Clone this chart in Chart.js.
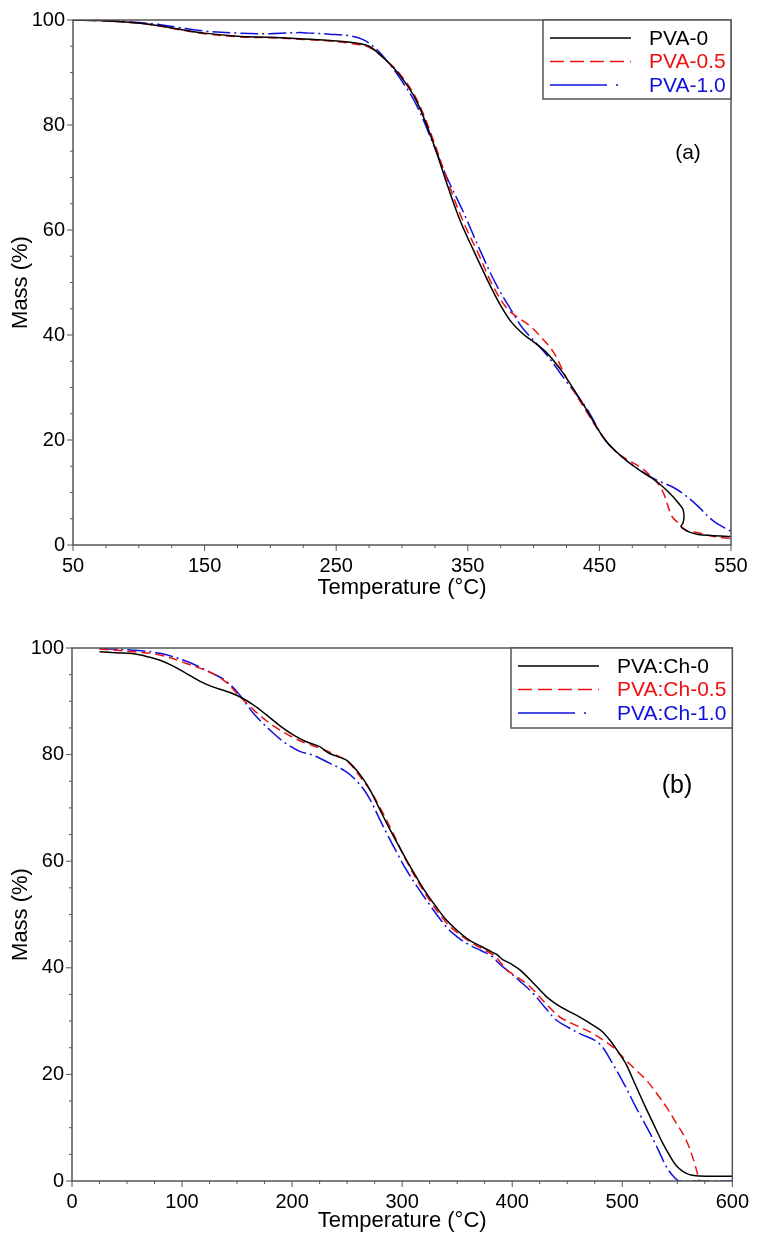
<!DOCTYPE html>
<html>
<head>
<meta charset="utf-8">
<script src="https://cdn.jsdelivr.net/npm/chart.js@4.4.0/dist/chart.umd.min.js"></script>
<style>
  body { margin: 0; background: #fff; }
  #wrap { position: relative; width: 758px; height: 1240px; }
  canvas { position: absolute; left: 0; }
  #chartA { top: 0; }
  #chartB { top: 610px; }
</style>
</head>
<body>
<div id="wrap">
  <canvas id="chartA" width="758" height="610"></canvas>
  <canvas id="chartB" width="758" height="630"></canvas>
</div>
<script>
// ---- panel (a) ----
const labelsA = ['PVA-0', 'PVA-0.5', 'PVA-1.0'];
const tempA0 = [50, 70, 90, 110, 130, 150, 175, 200, 225, 250, 265, 275, 285, 298, 311, 324, 334, 344, 354, 367, 375, 383, 392, 400, 410, 420, 425, 438, 455, 471, 485, 494, 504, 510, 513.5, 514.3, 513.5, 512, 515, 519, 525, 535, 550];
const massA0 = [100, 99.9, 99.6, 99.1, 98.3, 97.5, 96.9, 96.7, 96.4, 96.0, 95.6, 95.0, 93.0, 89.6, 84.6, 76.4, 68.9, 61.9, 56.3, 49.4, 45.6, 42.5, 40.2, 38.7, 36.6, 33.6, 31.8, 26.7, 19.8, 16.0, 13.5, 12.0, 9.7, 8.0, 6.8, 5.3, 4.2, 3.5, 2.9, 2.4, 2.0, 1.8, 1.6];
const tempA05 = [50, 70, 90, 110, 130, 150, 175, 200, 225, 250, 265, 275, 285, 298, 311, 324, 334, 346, 358, 369, 380, 390, 397, 406, 415, 425, 440, 455, 465, 473, 483, 491, 496, 499, 502, 505, 509, 516, 524, 535, 550];
const massA05 = [100, 99.9, 99.6, 99.1, 98.2, 97.4, 96.8, 96.6, 96.3, 95.9, 95.4, 94.8, 93.0, 89.8, 85.0, 77.0, 69.8, 61.9, 55.5, 49.4, 45.0, 43.0, 41.8, 39.5, 36.8, 31.8, 25.5, 19.8, 17.3, 16.0, 14.5, 12.6, 11.2, 9.7, 7.5, 5.5, 4.4, 2.8, 2.4, 1.7, 1.2];
const tempA10 = [50, 70, 90, 110, 130, 150, 175, 200, 222, 230, 245, 260, 270, 278, 286, 298, 311, 324, 334, 347, 359, 372, 387, 392, 410, 425, 440, 455, 471, 485, 494, 506, 515, 524, 537, 550];
const massA10 = [100, 99.9, 99.7, 99.3, 98.6, 97.9, 97.5, 97.4, 97.6, 97.5, 97.3, 97.0, 96.3, 95.0, 93.0, 89.1, 83.8, 76.2, 70.1, 63.2, 56.3, 49.4, 43.1, 41.2, 36.2, 31.1, 26.1, 19.8, 16.0, 13.6, 12.3, 11.0, 9.5, 7.6, 4.5, 2.6];

// ---- panel (b) ----
const labelsB = ['PVA:Ch-0', 'PVA:Ch-0.5', 'PVA:Ch-1.0'];
const tempB0 = [25, 40, 56, 70, 80, 92, 104, 116, 128, 140, 152, 165, 177, 189, 201, 213, 225, 234, 249, 258, 265, 271, 279, 286, 295, 304, 313, 322, 331, 340, 350, 361, 372, 382, 386, 391, 400, 407, 418, 431, 440, 449, 461, 473, 482, 491, 497, 503, 512, 521, 530, 537, 543, 549, 555, 561, 567, 580, 600];
const massB0 = [99.3, 99.1, 98.9, 98.3, 97.7, 96.6, 95.2, 93.8, 92.7, 91.9, 90.9, 89.3, 87.4, 85.4, 83.7, 82.4, 81.5, 80.2, 79.0, 77.2, 75.3, 73.3, 70.0, 67.1, 63.6, 60.2, 57.0, 54.0, 51.4, 49.0, 47.0, 45.2, 44.0, 42.9, 42.5, 41.6, 40.6, 39.6, 37.4, 34.6, 33.2, 32.1, 30.8, 29.3, 28.0, 25.8, 24.0, 22.1, 18.0, 13.9, 10.0, 7.0, 4.8, 2.9, 1.8, 1.2, 1.0, 0.9, 0.9];
const tempB05 = [25, 56, 80, 104, 128, 140, 152, 165, 177, 189, 201, 213, 225, 237, 249, 255, 262, 271, 280, 290, 304, 322, 340, 352, 364, 376, 385, 390, 395, 405, 416, 430, 443, 458, 473, 491, 503, 512, 522, 531, 540, 549, 558, 565, 570];
const massB05 = [99.8, 99.3, 98.7, 97.1, 95.2, 93.6, 91.0, 88.4, 86.3, 84.6, 83.2, 82.1, 81.2, 80.2, 78.9, 77.7, 75.8, 73.3, 70.0, 66.0, 60.0, 53.6, 48.5, 46.3, 44.6, 43.2, 42.1, 40.8, 39.6, 38.2, 36.5, 33.4, 30.8, 29.2, 27.7, 25.2, 22.7, 20.9, 18.9, 16.5, 13.9, 10.9, 7.7, 3.8, 0.0];
const tempB10 = [25, 56, 80, 104, 128, 140, 152, 165, 183, 195, 207, 220, 234, 249, 258, 265, 271, 280, 286, 295, 304, 322, 340, 350, 361, 372, 382, 388, 395, 407, 419, 430, 440, 451, 461, 479, 491, 503, 512, 522, 531, 540, 546, 552, 600];
const massB10 = [99.9, 99.6, 99.0, 97.5, 95.2, 93.8, 91.3, 87.7, 84.0, 82.0, 80.6, 79.8, 78.4, 76.8, 75.2, 73.5, 71.5, 67.7, 65.2, 61.7, 58.3, 52.7, 47.7, 45.8, 44.3, 43.2, 42.1, 40.8, 39.6, 37.5, 35.2, 32.5, 30.2, 28.8, 27.7, 25.8, 22.1, 17.7, 14.0, 10.2, 6.6, 2.7, 1.0, 0, 0];

const FONT = 'Arial, "Liberation Sans", sans-serif';
Chart.defaults.font.family = FONT;
Chart.defaults.color = '#000';

function pts(ts, ms) {
  return ts.map((t, i) => ({ x: t, y: ms[i] }));
}

function series(label, ts, ms, color, dash, legendDash) {
  return {
    label: label,
    data: pts(ts, ms),
    borderColor: color,
    borderWidth: 1.5,
    borderDash: dash,
    legendDash: legendDash,
    pointRadius: 0,
    tension: 0.35,
    showLine: true,
    fill: false
  };
}

// frame, ticks, in-plot legend and panel label
const framePlugin = {
  id: 'frame',
  afterDraw(chart, args, opts) {
    const { ctx, chartArea: a, scales: { x, y } } = chart;
    ctx.save();
    ctx.strokeStyle = '#555';
    ctx.lineWidth = 1;
    ctx.beginPath();
    x.ticks.forEach(t => {
      const px = x.getPixelForValue(t.value);
      const len = t.label !== '' ? 6 : 3;
      ctx.moveTo(px, a.bottom);
      ctx.lineTo(px, a.bottom + len);
    });
    y.ticks.forEach(t => {
      const py = y.getPixelForValue(t.value);
      const len = t.label !== '' ? 6 : 3;
      ctx.moveTo(a.left, py);
      ctx.lineTo(a.left - len, py);
    });
    ctx.stroke();
    ctx.lineWidth = 1.5;
    ctx.strokeRect(a.left, a.top, a.right - a.left, a.bottom - a.top);

    // legend box
    const bx = opts.boxLeft, by = a.top, bw = a.right - opts.boxLeft, bh = opts.boxHeight;
    ctx.fillStyle = '#fff';
    ctx.fillRect(bx, by, bw, bh);
    ctx.strokeRect(bx, by, bw, bh);
    ctx.font = '21px ' + FONT;
    ctx.textBaseline = 'middle';
    ctx.textAlign = 'left';
    chart.data.datasets.forEach((ds, i) => {
      const ly = by + 18 + i * 23.5;
      ctx.strokeStyle = ds.borderColor;
      ctx.lineWidth = 1.5;
      ctx.setLineDash(ds.legendDash || []);
      ctx.beginPath();
      ctx.moveTo(bx + 7, ly);
      ctx.lineTo(bx + 88, ly);
      ctx.stroke();
      ctx.setLineDash([]);
      ctx.fillStyle = ds.borderColor;
      ctx.fillText(ds.label, opts.textLeft, ly + 1);
    });

    // panel label
    ctx.fillStyle = '#000';
    ctx.textAlign = 'center';
    ctx.font = opts.tagSize + 'px ' + FONT;
    ctx.fillText(opts.tag, opts.tagX, opts.tagY);
    ctx.restore();
  }
};

function makeChart(id, datasets, xmin, xmax, yWidth, xHeight, pad, frameOpts, titlePad) {
  return new Chart(document.getElementById(id), {
    type: 'scatter',
    data: { datasets: datasets },
    options: {
      responsive: false,
      animation: false,
      devicePixelRatio: 1,
      layout: { padding: pad },
      plugins: {
        legend: { display: false },
        tooltip: { enabled: false },
        frame: frameOpts
      },
      scales: {
        x: {
          type: 'linear',
          min: xmin,
          max: xmax,
          afterFit: s => { s.height = xHeight; },
          grid: { display: false, drawTicks: false },
          border: { display: false },
          ticks: {
            stepSize: 25,
            autoSkip: false,
            maxRotation: 0,
            padding: 9,
            font: { size: 20 },
            callback: v => ((v - xmin) % 100 === 0 ? String(v) : '')
          },
          title: {
            display: true,
            text: 'Temperature (°C)',
            font: { size: 22 },
            padding: { top: 0, bottom: titlePad }
          }
        },
        y: {
          min: 0,
          max: 100,
          afterFit: s => { s.width = yWidth; },
          grid: { display: false, drawTicks: false },
          border: { display: false },
          ticks: {
            stepSize: 5,
            autoSkip: false,
            padding: 8,
            font: { size: 20 },
            callback: v => (v % 20 === 0 ? String(v) : '')
          },
          title: {
            display: true,
            text: 'Mass (%)',
            font: { size: 22 },
            padding: { top: 8, bottom: 0 }
          }
        }
      }
    },
    plugins: [framePlugin]
  });
}

const RED = '#ee1111', BLUE = '#1111dd';

makeChart('chartA', [
  series(labelsA[0], tempA0, massA0, '#000', [], []),
  series(labelsA[1], tempA05, massA05, RED, [9, 5], [14, 6]),
  series(labelsA[2], tempA10, massA10, BLUE, [18, 4, 2, 4], [57, 9, 2, 20])
], 50, 550, 73, 65, { left: 0, top: 15, right: 27, bottom: 0 },
  { boxLeft: 543, boxHeight: 79, textLeft: 649, tag: '(a)', tagX: 688, tagY: 153, tagSize: 21 }, 9);

makeChart('chartB', [
  series(labelsB[0], tempB0, massB0, '#000', [], []),
  series(labelsB[1], tempB05, massB05, RED, [9, 5], [14, 6]),
  series(labelsB[2], tempB10, massB10, BLUE, [18, 4, 2, 4], [57, 9, 2, 20])
], 0, 600, 72, 59, { left: 0, top: 38, right: 25, bottom: 0 },
  { boxLeft: 511, boxHeight: 80, textLeft: 617, tag: '(b)', tagX: 677, tagY: 176, tagSize: 25 }, 6);
</script>
</body>
</html>
